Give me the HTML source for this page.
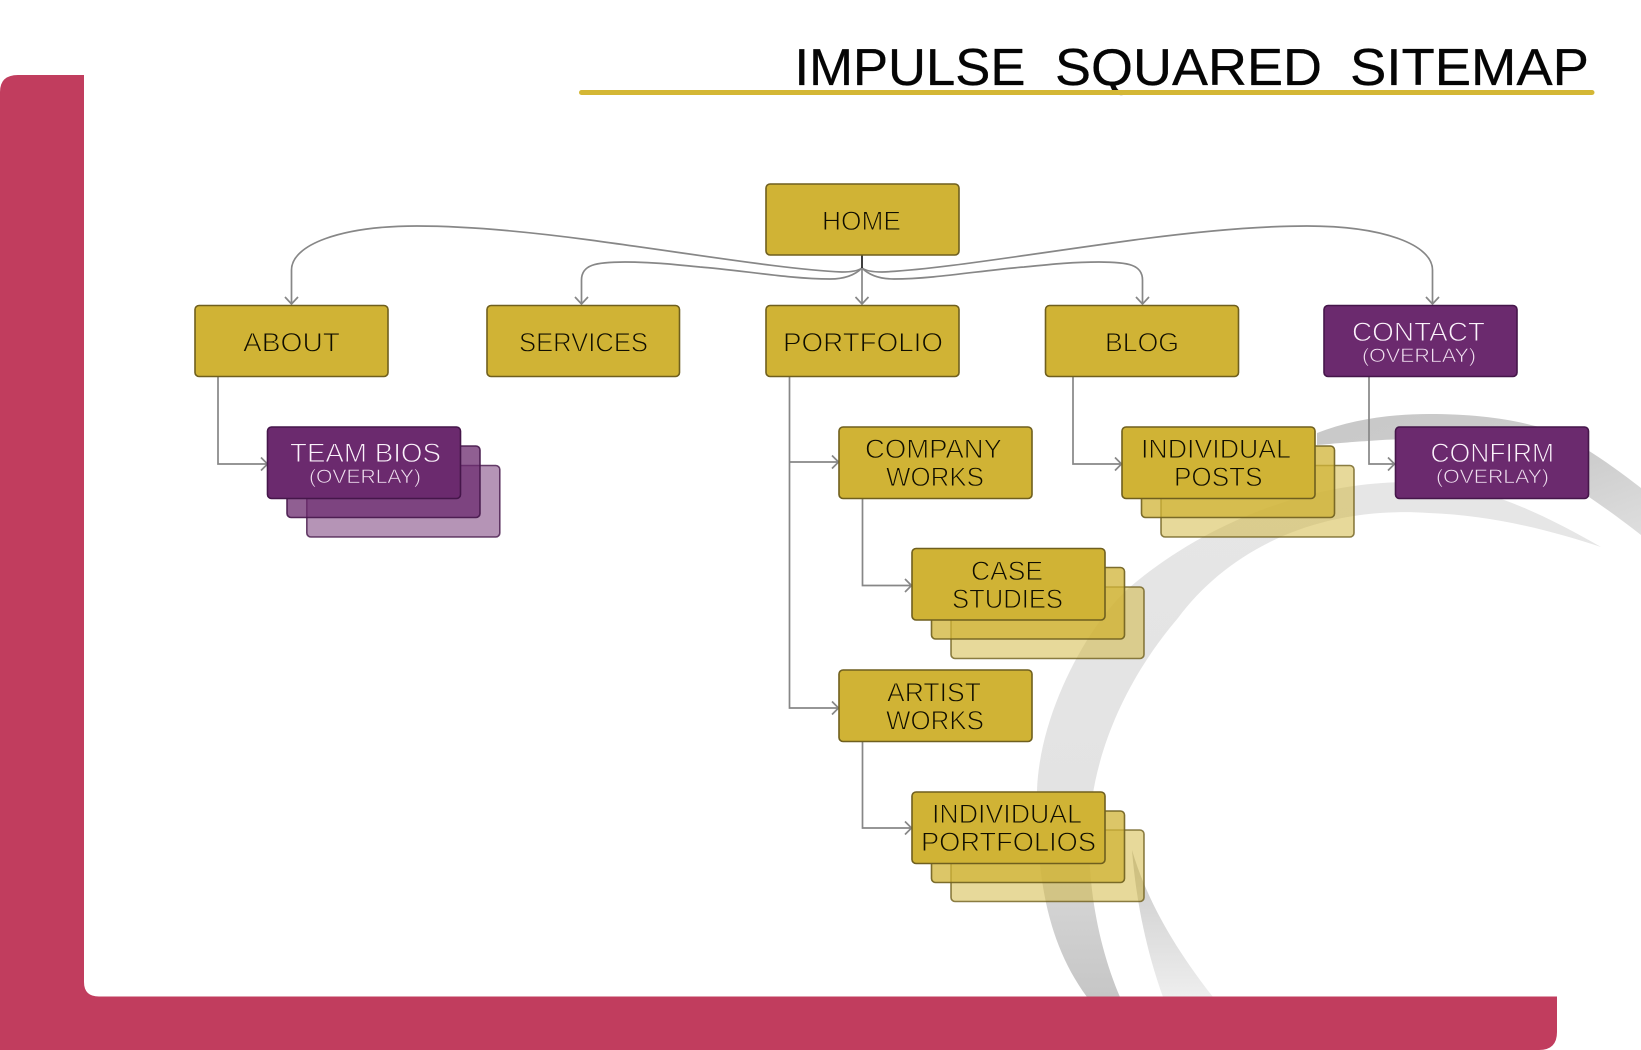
<!DOCTYPE html>
<html><head><meta charset="utf-8"><style>
html,body{margin:0;padding:0;background:#fff;width:1641px;height:1050px;overflow:hidden}
svg{display:block}
text{font-family:"Liberation Sans",sans-serif}
.b{fill:#d0b335;stroke:#6f5f1e;stroke-width:1.6}
.b2{fill:#d0b335;fill-opacity:.75;stroke:#6f5f1e;stroke-opacity:.9;stroke-width:1.6}
.b3{fill:#d0b335;fill-opacity:.5;stroke:#6f5f1e;stroke-opacity:.8;stroke-width:1.6}
.p{fill:#6b2a6e;stroke:#45164a;stroke-width:1.6}
.p2{fill:#6b2a6e;fill-opacity:.75;stroke:#45164a;stroke-opacity:.9;stroke-width:1.6}
.p3{fill:#6b2a6e;fill-opacity:.5;stroke:#45164a;stroke-opacity:.8;stroke-width:1.6}
.c{fill:none;stroke:#878787;stroke-width:1.7}
.t{font-size:27px;fill:#100e00;stroke:#d0b335;stroke-width:.9}
.w{font-size:27px;fill:#fbf2fb;stroke:#6b2a6e;stroke-width:.9}
.o{font-size:19px;fill:#f0e0f0;stroke:#6b2a6e;stroke-width:.6}
</style></head><body>
<svg width="1641" height="1050" viewBox="0 0 1641 1050" xmlns="http://www.w3.org/2000/svg">
<defs>
<linearGradient id="g1" x1="0" y1="0" x2="0" y2="1"><stop offset="0" stop-color="#e6e6e6"/><stop offset=".6" stop-color="#e3e3e3"/><stop offset="1" stop-color="#c6c6c6"/></linearGradient>
<linearGradient id="g2" x1="0" y1="0" x2="1" y2="1"><stop offset="0" stop-color="#c8c8c8"/><stop offset=".6" stop-color="#cdcdcd"/><stop offset="1" stop-color="#dedede"/></linearGradient>
<linearGradient id="g3" x1="0" y1="0" x2="0" y2="1"><stop offset="0" stop-color="#c8c8c8"/><stop offset="1" stop-color="#eeeeee"/></linearGradient>
</defs>

<!-- swirl -->
<path d="M1601 547 C1540 512 1485 487 1429 483 C1330 476 1215 515 1130 587 C1090 622 1040 710 1037 790 C1036 870 1045 940 1087 997 L1120 997 C1102 955 1089 900 1089 840 C1089 760 1125 680 1178 618 C1225 555 1310 505 1429 513 C1490 515 1550 530 1601 547Z" fill="url(#g1)"/>
<path d="M1317 433 C1350 420 1390 414 1429 414 C1470 414 1505 418 1531 425 C1565 432 1605 460 1641 488 L1641 535 C1622 520 1605 508 1589 497 C1560 475 1530 458 1495 448 C1450 438 1400 438 1368 441 C1350 442 1330 444 1317 445Z" fill="url(#g2)"/>
<path d="M1132 850 C1136 900 1146 950 1163 997 L1213 997 C1180 955 1148 905 1132 850Z" fill="url(#g3)"/>

<!-- title -->
<g font-size="52" fill="#050505" stroke="#050505" stroke-width=".3">
<text x="794.5" y="85" textLength="231" lengthAdjust="spacingAndGlyphs">IMPULSE</text>
<text x="1055" y="85" textLength="267" lengthAdjust="spacingAndGlyphs">SQUARED</text>
<text x="1350" y="85" textLength="239" lengthAdjust="spacingAndGlyphs">SITEMAP</text>
</g>
<rect x="579" y="90" width="1015.5" height="5" rx="2.5" fill="#d4b735"/>

<!-- connectors -->
<path class="c" d="M862 268 C858 271 852 272 842 272 C790 270 700 255 590 240 C530 232 470 226 417 226 C340 226 291.500 245 291.500 270 L291.500 304"/>
<path class="c" d="M862 268 C866 271 872 272 882 272 C934 270 1024 255 1134 240 C1194 232 1254 226 1307 226 C1384 226 1432.500 245 1432.500 270 L1432.500 304"/>
<path class="c" d="M862 268 C855 275 845 279 830 279 C790 279 740 270 700 267 C670 264 650 262 625 262 C595 262 581.500 265 581.500 280 L581.500 304"/>
<path class="c" d="M862 268 C869 275 879 279 894 279 C934 279 984 270 1024 267 C1054 264 1074 262 1099 262 C1129 262 1142.500 265 1142.500 280 L1142.500 304"/>
<path class="c" d="M862 268 L862 304"/>
<path d="M862 255 L862 268" stroke="#2a2a2a" stroke-width="1.8" fill="none"/>
<path class="c" d="M285 297 L291.500 304 L298 297 M575 297 L581.500 304 L588 297 M855.500 297 L862 304 L868.500 297 M1136 297 L1142.500 304 L1149 297 M1426 297 L1432.500 304 L1439 297"/>

<path class="c" d="M218 377 L218 464 L267 464 M261 457.500 L267.500 464 L261 470.500"/>
<path class="c" d="M789.500 377 L789.500 708 L839 708 M789.500 462 L839 462 M832 455.500 L838.500 462 L832 468.500 M832 701.500 L838.500 708 L832 714.500"/>
<path class="c" d="M862.500 498 L862.500 585.500 L912 585.500 M905 579 L911.500 585.500 L905 592 M862.500 742 L862.500 828 L912 828 M905 821.500 L911.500 828 L905 834.500"/>
<path class="c" d="M1073 377 L1073 464 L1122 464 M1115 457.500 L1121.500 464 L1115 470.500"/>
<path class="c" d="M1369 377 L1369 464 L1395 464 M1388 457.500 L1394.500 464 L1388 470.500"/>

<!-- stacks -->
<rect class="p3" x="306.800" y="465.500" width="193" height="71.500" rx="4"/>
<rect class="p2" x="287" y="446" width="193" height="71.500" rx="4"/>
<rect class="p" x="267.500" y="427" width="193" height="71.500" rx="4"/>

<rect class="b3" x="1161" y="465.500" width="193" height="71.500" rx="4"/>
<rect class="b2" x="1141.500" y="446" width="193" height="71.500" rx="4"/>
<rect class="b" x="1122" y="427" width="193" height="71.500" rx="4"/>

<rect class="b3" x="951" y="587" width="193" height="71.500" rx="4"/>
<rect class="b2" x="931.500" y="567.500" width="193" height="71.500" rx="4"/>
<rect class="b" x="912" y="548.500" width="193" height="71.500" rx="4"/>

<rect class="b3" x="951" y="830" width="193" height="71.500" rx="4"/>
<rect class="b2" x="931.500" y="811" width="193" height="71.500" rx="4"/>
<rect class="b" x="912" y="792" width="193" height="71.500" rx="4"/>

<!-- boxes -->
<rect class="b" x="766" y="184" width="193" height="71" rx="4"/>
<rect class="b" x="195" y="305.500" width="193" height="71" rx="4"/>
<rect class="b" x="487" y="305.500" width="192.500" height="71" rx="4"/>
<rect class="b" x="766" y="305.500" width="193" height="71" rx="4"/>
<rect class="b" x="1045.500" y="305.500" width="193" height="71" rx="4"/>
<rect class="p" x="1324" y="305.500" width="193" height="71" rx="4"/>
<rect class="b" x="839" y="427" width="193" height="71.500" rx="4"/>
<rect class="b" x="839" y="670" width="193" height="71.500" rx="4"/>
<rect class="p" x="1395.500" y="427" width="193" height="71.500" rx="4"/>

<!-- labels -->
<text class="t" x="822" y="230" textLength="79" lengthAdjust="spacingAndGlyphs">HOME</text>
<text class="t" x="243" y="351.500" textLength="97" lengthAdjust="spacingAndGlyphs">ABOUT</text>
<text class="t" x="519" y="351.500" textLength="129" lengthAdjust="spacingAndGlyphs">SERVICES</text>
<text class="t" x="783" y="351.500" textLength="160" lengthAdjust="spacingAndGlyphs">PORTFOLIO</text>
<text class="t" x="1105" y="351.500" textLength="74" lengthAdjust="spacingAndGlyphs">BLOG</text>
<text class="w" x="1352" y="341" textLength="133" lengthAdjust="spacingAndGlyphs">CONTACT</text>
<text class="o" x="1362" y="362" textLength="114" lengthAdjust="spacingAndGlyphs">(OVERLAY)</text>
<text class="w" x="290" y="462" textLength="151" lengthAdjust="spacingAndGlyphs">TEAM BIOS</text>
<text class="o" x="309" y="483" textLength="112" lengthAdjust="spacingAndGlyphs">(OVERLAY)</text>
<text class="t" x="865" y="458" textLength="137" lengthAdjust="spacingAndGlyphs">COMPANY</text>
<text class="t" x="886" y="486" textLength="98" lengthAdjust="spacingAndGlyphs">WORKS</text>
<text class="t" x="971" y="580" textLength="72" lengthAdjust="spacingAndGlyphs">CASE</text>
<text class="t" x="952" y="608" textLength="111" lengthAdjust="spacingAndGlyphs">STUDIES</text>
<text class="t" x="887" y="701.500" textLength="94" lengthAdjust="spacingAndGlyphs">ARTIST</text>
<text class="t" x="886" y="729.500" textLength="98" lengthAdjust="spacingAndGlyphs">WORKS</text>
<text class="t" x="932" y="823" textLength="150" lengthAdjust="spacingAndGlyphs">INDIVIDUAL</text>
<text class="t" x="921" y="851" textLength="175" lengthAdjust="spacingAndGlyphs">PORTFOLIOS</text>
<text class="t" x="1141" y="458" textLength="150" lengthAdjust="spacingAndGlyphs">INDIVIDUAL</text>
<text class="t" x="1174" y="486" textLength="88.500" lengthAdjust="spacingAndGlyphs">POSTS</text>
<text class="w" x="1430.500" y="462" textLength="123.500" lengthAdjust="spacingAndGlyphs">CONFIRM</text>
<text class="o" x="1436" y="483" textLength="113" lengthAdjust="spacingAndGlyphs">(OVERLAY)</text>

<!-- red frame -->
<path d="M0 92 Q0 75 18 75 L84 75 L84 982 Q84 996.500 99 996.500 L1557 996.500 L1557 1032 Q1557 1050 1539 1050 L0 1050 Z" fill="#c13d5e"/>
</svg>
</body></html>
